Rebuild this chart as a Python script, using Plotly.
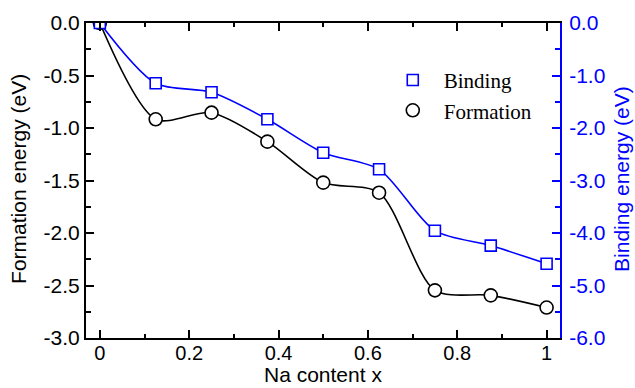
import plotly.graph_objects as go

x = [0, 0.125, 0.25, 0.375, 0.5, 0.625, 0.75, 0.875, 1.0]
formation = [0.0, -0.917, -0.854, -1.13, -1.52, -1.616, -2.546, -2.594, -2.71]
binding = [0.0, -1.149, -1.32, -1.834, -2.47, -2.787, -3.956, -4.24, -4.585]

xticks = [0, 0.2, 0.4, 0.6, 0.8, 1]
xticktext = ["0", "0.2", "0.4", "0.6", "0.8", "1"]
yticks_left = [0.0, -0.5, -1.0, -1.5, -2.0, -2.5, -3.0]
yticktext_left = ["0.0", "-0.5", "-1.0", "-1.5", "-2.0", "-2.5", "-3.0"]
yticks_right = [0.0, -1.0, -2.0, -3.0, -4.0, -5.0, -6.0]
yticktext_right = ["0.0", "-1.0", "-2.0", "-3.0", "-4.0", "-5.0", "-6.0"]

BLUE = "#0000ff"
SANS = "Liberation Sans, Arial, sans-serif"
SERIF = "Liberation Serif, Times New Roman, serif"

fig = go.Figure()
fig.add_trace(go.Scatter(x=x, y=binding, mode="lines", line=dict(color=BLUE, width=1.6, shape="spline", smoothing=0.8),
                         yaxis="y2", showlegend=False, hoverinfo="skip"))
fig.add_trace(go.Scatter(x=x, y=formation, mode="lines", line=dict(color="black", width=1.6, shape="spline", smoothing=0.8),
                         showlegend=False, hoverinfo="skip"))
fig.add_trace(go.Scatter(x=x, y=binding, mode="markers", name="Binding", yaxis="y2",
                         marker=dict(symbol="square", size=11, color="white", line=dict(color=BLUE, width=1.6))))
fig.add_trace(go.Scatter(x=x, y=formation, mode="markers", name="Formation",
                         marker=dict(symbol="circle", size=13, color="white", line=dict(color="black", width=1.6))))

fig.update_layout(
    width=635, height=388,
    margin=dict(l=86, r=75, t=23, b=50),
    plot_bgcolor="white", paper_bgcolor="white",
    font=dict(family=SANS, size=21, color="black"),
    showlegend=True,
    legend=dict(x=0.624, y=0.883, xanchor="left", yanchor="top", bgcolor="rgba(0,0,0,0)",
                font=dict(family=SERIF, size=21, color="black"), tracegroupgap=0, itemwidth=52),
    xaxis=dict(range=[-0.031, 1.03], tickvals=xticks, ticktext=xticktext, automargin=False,
               ticks="inside", ticklen=8, tickwidth=1.6, tickcolor="black",
               showline=True, linecolor="black", linewidth=2, mirror="ticks",
               showgrid=False, zeroline=False, ticklabelstandoff=-4,
               tickfont=dict(size=20),
               minor=dict(ticks="inside", dtick=0.1, tick0=0, ticklen=4, tickwidth=1.6, tickcolor="black", showgrid=False)),
    yaxis=dict(range=[-3, 0], tickvals=yticks_left, ticktext=yticktext_left, automargin=False,
               ticks="inside", ticklen=8, tickwidth=1.6, tickcolor="black",
               showline=True, linecolor="black", linewidth=2,
               showgrid=False, zeroline=False,
               minor=dict(ticks="inside", dtick=0.25, tick0=0, ticklen=5, tickwidth=1.6, tickcolor="black", showgrid=False)),
    yaxis2=dict(range=[-6, 0], tickvals=yticks_right, ticktext=yticktext_right, automargin=False,
                overlaying="y", side="right", anchor="x",
                ticks="inside", ticklen=8, tickwidth=1.6, tickcolor=BLUE,
                showline=True, linecolor=BLUE, linewidth=2,
                showgrid=False, zeroline=False, ticklabelstandoff=3,
                tickfont=dict(color=BLUE),
                minor=dict(ticks="inside", dtick=0.5, tick0=0, ticklen=5, tickwidth=1.6, tickcolor=BLUE, showgrid=False)),
    annotations=[
        dict(text="Na content x", xref="paper", yref="paper", x=0.5, y=-0.156, xanchor="center", yanchor="bottom",
             showarrow=False, borderpad=0, font=dict(family=SANS, size=21, color="black")),
        dict(text="Formation energy (eV)", xref="paper", yref="paper", x=-0.1414, y=0.505, xanchor="center", yanchor="middle",
             textangle=-90, showarrow=False, font=dict(family=SANS, size=21, color="black")),
        dict(text="Binding energy (eV)", xref="paper", yref="paper", x=1.1308, y=0.505, xanchor="center", yanchor="middle",
             textangle=-90, showarrow=False, font=dict(family=SANS, size=21, color=BLUE)),
    ],
)

fig.write_html("out.html")
